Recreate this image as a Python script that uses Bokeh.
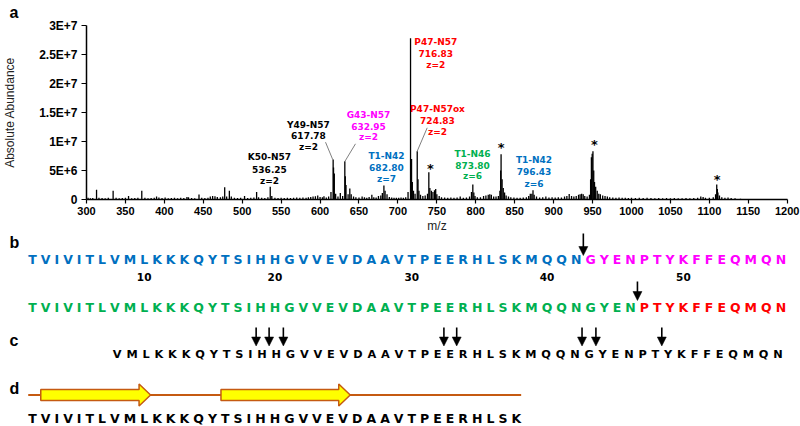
import numpy as np
from bokeh.plotting import figure
from bokeh.models import Range1d, FixedTicker, LinearAxis
from bokeh.core.properties import value
from bokeh.embed import file_html
from bokeh.resources import INLINE

# ---------------- panel a: spectrum data ----------------
peak_mz = [
    302, 305, 308, 312.9, 316, 320, 324, 328, 334.2, 338,
    342, 346, 350, 354, 358, 362, 366, 371, 375, 379,
    383, 387, 390, 393, 397, 401, 405, 409, 413, 417,
    421, 425, 429, 431, 435, 439, 444.5, 448, 452, 456,
    459, 462, 465, 468, 472, 475, 477.5, 480, 483.5, 486,
    490, 494, 498, 503, 507, 511, 515, 518.5, 521, 525,
    529, 533, 536, 538, 542, 546, 550, 554, 558, 562,
    566, 570, 574, 578, 582, 585, 588, 591, 594, 597,
    600, 603, 605, 608, 611, 614, 616.8, 618.3, 620, 623,
    626, 629, 631.8, 633.3, 636, 638.2, 640, 643, 646, 650,
    654, 657, 660, 663, 666.5, 669, 672, 675, 678, 680,
    682, 683.5, 686, 689, 692, 695, 698, 701, 704, 707,
    710, 713, 716.2, 717.5, 718.5, 720, 722, 724.8, 725.8, 727,
    729, 732, 735, 738, 739.7, 741, 743, 745, 747, 748.5,
    750, 753, 756, 760, 764, 768, 772, 776, 780, 784,
    788, 792, 794.5, 796.2, 797.5, 799, 802, 806, 810, 813,
    816, 818, 820, 823, 826, 829, 831, 832.5, 833.8, 835.3,
    837, 839, 842, 845, 849, 853, 857, 861, 865, 868,
    870, 872, 873.5, 875, 878, 882, 886, 890, 894, 898,
    902, 906, 910, 914, 917, 920, 923, 926, 929, 932,
    934, 936, 938, 940, 943, 946, 948.5, 950.5, 951.5, 952.5,
    954, 956, 958, 960, 963, 966, 969, 972, 976, 980,
    984, 988, 992, 996, 1000, 1005, 1010, 1015, 1020, 1025,
    1030, 1035, 1040, 1045, 1050, 1055, 1060, 1065, 1070, 1075,
    1080, 1085, 1089, 1092, 1095, 1100, 1105, 1108, 1109.5, 1111,
    1113, 1116, 1120, 1124, 1128, 1133, 1140, 1150, 1160, 1170,
    947.5, 949.5, 832.0, 617.3, 632.4, 1110.3,
]
peak_abund_e6 = [
    0.3, 0.2, 0.25, 1.7, 0.3, 0.25, 0.2, 0.3, 1.5, 0.3,
    0.2, 0.25, 0.3, 0.6, 0.2, 0.25, 0.3, 1.5, 0.3, 0.2,
    0.25, 0.3, 0.5, 0.35, 0.25, 0.35, 0.2, 0.25, 0.3, 0.2,
    0.3, 0.25, 0.45, 0.4, 0.25, 0.2, 0.85, 0.3, 0.25, 0.3,
    0.5, 0.6, 0.55, 0.45, 0.4, 0.5, 2.1, 0.5, 1.5, 0.5,
    0.3, 0.25, 0.3, 0.6, 0.25, 0.3, 0.35, 1.3, 0.4, 0.3,
    0.25, 0.4, 2.2, 0.6, 0.3, 0.25, 0.3, 0.25, 0.3, 0.25,
    0.3, 0.35, 0.3, 0.35, 0.3, 0.4, 0.45, 0.5, 0.55, 0.7,
    0.45, 0.4, 0.55, 0.35, 0.5, 1.3, 6.9, 4.5, 1.0, 0.5,
    1.1, 0.6, 6.6, 2.5, 0.9, 1.9, 0.9, 0.5, 0.4, 0.35,
    0.5, 0.4, 0.3, 0.45, 0.8, 0.4, 0.35, 0.6, 0.7, 1.1,
    2.4, 1.5, 0.9, 0.45, 0.35, 0.3, 0.3, 0.3, 0.35, 0.3,
    0.4, 1.3, 27.8, 7.0, 3.0, 1.5, 1.0, 8.3, 3.5, 1.5,
    0.8, 0.6, 0.7, 1.0, 4.7, 2.0, 1.5, 1.3, 1.6, 1.8,
    0.9, 0.6, 0.4, 0.35, 0.3, 0.35, 0.3, 0.35, 0.5, 0.3,
    0.35, 0.5, 1.3, 2.6, 1.2, 0.6, 0.4, 0.4, 0.6, 0.7,
    0.8, 0.9, 0.8, 0.5, 0.5, 0.6, 1.5, 7.8, 3.5, 2.0,
    1.2, 0.7, 0.5, 0.4, 0.35, 0.3, 0.3, 0.35, 0.4, 0.6,
    1.0, 1.0, 1.6, 0.8, 0.5, 0.35, 0.4, 0.5, 0.35, 0.4,
    0.35, 0.4, 0.35, 0.5, 0.6, 0.95, 0.6, 0.5, 0.6, 0.8,
    0.9, 1.0, 0.9, 0.6, 0.5, 0.8, 7.3, 8.3, 5.0, 3.0,
    2.2, 1.5, 1.0, 0.9, 0.7, 0.6, 0.5, 0.4, 0.35, 0.3,
    0.35, 0.3, 0.3, 0.25, 0.3, 0.25, 0.3, 0.25, 0.3, 0.25,
    0.2, 0.25, 0.2, 0.25, 0.2, 0.25, 0.2, 0.2, 0.25, 0.2,
    0.25, 0.3, 0.5, 0.45, 0.3, 0.3, 0.4, 0.9, 2.6, 1.2,
    0.7, 0.4, 0.3, 0.35, 0.25, 0.2, 0.15, 0.1, 0.1, 0.1,
    3.5, 7.9, 5.0, 5.5, 4.0, 1.8,
]

x_ticks = list(range(300, 1201, 50))
y_ticks = [0, 5000000, 10000000, 15000000, 20000000, 25000000, 30000000]
y_tick_labels = ["0", "5E+6", "1E+7", "1.5E+7", "2E+7", "2.5E+7", "3E+7"]

# peak annotations (three lines each)
ann_text = ["K50-N57", "536.25", "z=2",
            "Y49-N57", "617.78", "z=2",
            "G43-N57", "632.95", "z=2",
            "T1-N42", "682.80", "z=7",
            "P47-N57", "716.83", "z=2",
            "P47-N57ox", "724.83", "z=2",
            "T1-N46", "873.80", "z=6",
            "T1-N42", "796.43", "z=6"]
ann_color = (["#000000"] * 6 + ["#FF00FF"] * 3 + ["#0070C0"] * 3 +
             ["#FF0000"] * 6 + ["#00B050"] * 3 + ["#0070C0"] * 3)
ann_mz = [535.0] * 3 + [585.1] * 3 + [662.2] * 3 + [685.3] * 3 + \
         [748.6] * 3 + [750.8] * 3 + [795.8] * 3 + [874.8] * 3
ann_ab = [7.41e6, 5.21e6, 3.19e6,
          12.93e6, 10.95e6, 9.05e6,
          14.53e6, 12.67e6, 10.69e6,
          7.50e6, 5.55e6, 3.62e6,
          27.12e6, 25.17e6, 23.24e6,
          15.60e6, 13.62e6, 11.64e6,
          7.88e6, 5.86e6, 4.00e6,
          6.81e6, 4.86e6, 2.64e6]
leader_mz0 = [607.0, 645.5, 737.6]
leader_ab0 = [9.88e6, 9.60e6, 12.36e6]
leader_mz1 = [616.4, 631.8, 724.8]
leader_ab1 = [6.84e6, 6.55e6, 8.33e6]
star_mz = [741.8, 832.6, 952.5, 1110.1]
star_ab = [5.3e6, 8.9e6, 9.4e6, 3.45e6]

# ---------------- panels b-d: sequence data ----------------
seq = "TVIVITLVMLKKKQYTSIHHGVVEVDAAVTPEERHLSKMQQNGYENPTYKFFEQMQN"
row1_split = 42          # T1-N42 | G43-N57
row2_split = 46          # T1-N46 | P47-N57
res_numbers = [10, 20, 30, 40, 50]
c_start = 8              # panel c starts at V8
c_cuts = [18, 19, 20, 32, 33, 42, 43, 48]
d_end = 38               # panel d: T1-K38
d_strands = [(2, 10), (16, 25)]

BLUE, MAGENTA, GREEN, RED = "#0070C0", "#FF00FF", "#00B050", "#FF0000"
ORANGE = "#C55A11"

# DejaVu Sans Bold advance widths (per 1000 em), used to space the residues
W = {'A': 774, 'D': 830, 'E': 683, 'F': 683, 'G': 821, 'H': 837, 'I': 372,
     'K': 775, 'L': 637, 'M': 995, 'N': 837, 'P': 733, 'Q': 850, 'R': 770,
     'S': 720, 'T': 682, 'V': 774, 'Y': 724}


def centers(residues, fs, x_first, x_last):
    w = [W[c] * fs / 1000.0 for c in residues]
    n = len(w)
    gap = (x_last - x_first - (sum(w) - w[0] / 2 - w[-1] / 2)) / (n - 1)
    xs = [x_first]
    for i in range(1, n):
        xs.append(xs[-1] + w[i - 1] / 2 + gap + w[i] / 2)
    return xs, w


FONT = value("DejaVu Sans")
LAB = value("Liberation Sans")

# ---------------- single canvas ----------------
WIDTH, HEIGHT = 800, 426
AX_L, AX_R, AX_T, AX_B = 86.0, 786.7, 25.0, 199.0     # pixel box of the spectrum axes
MZ0, MZ1, AB0, AB1 = 300.0, 1200.0, 0.0, 3e7
kx = (AX_R - AX_L) / (MZ1 - MZ0)
ky = (AX_B - AX_T) / (AB1 - AB0)
x_rng = Range1d(MZ0 - AX_L / kx, MZ0 + (WIDTH - AX_L) / kx)
y_rng = Range1d(AB0 - (HEIGHT - AX_B) / ky, AB0 + AX_B / ky)

p = figure(width=WIDTH, height=HEIGHT, x_range=x_rng, y_range=y_rng,
           x_axis_type=None, y_axis_type=None, min_border=0,
           output_backend="svg", toolbar_location=None)
p.extra_x_ranges = {"px": Range1d(0, WIDTH)}
p.extra_y_ranges = {"px": Range1d(HEIGHT, 0)}
p.outline_line_color = None
p.background_fill_color = "white"
p.border_fill_color = "white"

# spectrum stems
mz = np.array(peak_mz)
ab = np.array(peak_abund_e6) * 1e6
p.segment(x0=mz, y0=np.zeros_like(mz), x1=mz, y1=ab, line_color="black", line_width=1.3)

# axes inside the canvas
xaxis = LinearAxis(fixed_location=0, bounds=(MZ0, MZ1), ticker=FixedTicker(ticks=x_ticks))
yaxis = LinearAxis(fixed_location=MZ0, bounds=(AB0, AB1), ticker=FixedTicker(ticks=y_ticks))
yaxis.major_label_overrides = {t: l for t, l in zip(y_ticks, y_tick_labels)}
for ax in (xaxis, yaxis):
    ax.axis_line_color = "black"
    ax.axis_line_width = 1.5
    ax.major_tick_line_color = "black"
    ax.major_tick_line_width = 1.2
    ax.major_tick_in = 0
    ax.minor_tick_line_color = None
    ax.major_label_text_font = "Liberation Sans"
    ax.major_label_text_font_style = "bold"
    ax.major_label_text_color = "black"
    ax.axis_label_text_font = "Liberation Sans"
    ax.axis_label_text_font_style = "normal"
    ax.axis_label_text_font_size = "12px"
    ax.axis_label_text_color = "#222222"
xaxis.major_tick_out = 4
xaxis.major_label_standoff = 3
xaxis.major_label_text_font_size = "11px"
xaxis.axis_label = "m/z"
xaxis.axis_label_standoff = 1
yaxis.major_tick_out = 5
yaxis.major_label_standoff = 4
yaxis.major_label_text_font_size = "12px"
yaxis.axis_label = "Absolute Abundance"
yaxis.axis_label_standoff = 19
p.add_layout(xaxis, "below")
p.add_layout(yaxis, "left")

# peak annotations
p.segment(x0=leader_mz0, y0=leader_ab0, x1=leader_mz1, y1=leader_ab1,
          line_color="#808080", line_width=1)
p.text(x=ann_mz, y=ann_ab, text=ann_text, text_color=ann_color, text_font=FONT,
       text_font_style="bold", text_font_size="9px", text_align="center", text_baseline="middle")
p.text(x=star_mz, y=star_ab, text=["*"] * len(star_mz), text_color="black", text_font=FONT,
       text_font_style="bold", text_font_size="13px", text_align="center", text_baseline="middle")

# ---------------- panels b-d (pixel ranges) ----------------
PX = dict(x_range_name="px", y_range_name="px")
xb, wb = centers(seq, 12.5, 32.0, 780.4)
c_res = seq[c_start - 1:]
xc, wc = centers(c_res, 11.3, 116.7, 777.5)

row1_col = [BLUE if i < row1_split else MAGENTA for i in range(len(seq))]
row2_col = [GREEN if i < row2_split else RED for i in range(len(seq))]

seq_kw = dict(text_font=FONT, text_font_style="bold", text_align="center", text_baseline="middle", **PX)
p.text(x=xb, y=[259] * len(seq), text=list(seq), text_color=row1_col, text_font_size="12.5px", **seq_kw)
p.text(x=xb, y=[307] * len(seq), text=list(seq), text_color=row2_col, text_font_size="12.5px", **seq_kw)
p.text(x=[xb[n - 1] for n in res_numbers], y=[276] * len(res_numbers),
       text=[str(n) for n in res_numbers], text_color="black", text_font_size="10.5px", **seq_kw)
p.text(x=xc, y=[353.5] * len(c_res), text=list(c_res), text_color="black",
       text_font_size="11.3px", **seq_kw)
p.text(x=xb[:d_end], y=[418] * d_end, text=list(seq[:d_end]), text_color="black",
       text_font_size="12.5px", **seq_kw)

p.text(x=[9], y=[12], text=["a"], text_color="black", text_font=LAB, text_font_style="bold",
       text_font_size="16px", text_align="left", text_baseline="alphabetic", **PX)
p.text(x=[9, 9, 9], y=[242, 340, 388], text=["b", "c", "d"], text_color="black",
       text_font=LAB, text_font_style="bold", text_font_size="16px",
       text_align="left", text_baseline="middle", **PX)

# cleavage arrows
arr_x, arr_top, arr_tip = [], [], []
arr_x.append((xb[row1_split - 1] + xb[row1_split]) / 2); arr_top.append(233); arr_tip.append(255)
arr_x.append((xb[row2_split - 1] + xb[row2_split]) / 2); arr_top.append(281); arr_tip.append(300)
for s in c_cuts:
    k = s - c_start
    arr_x.append((xc[k] + xc[k + 1]) / 2); arr_top.append(327); arr_tip.append(345.5)
hl, hw = 9.0, 4.5
p.segment(x0=arr_x, y0=arr_top, x1=arr_x, y1=[t - hl + 1 for t in arr_tip],
          line_color="black", line_width=1.6, **PX)
p.patches(xs=[[x - hw, x + hw, x] for x in arr_x],
          ys=[[t - hl, t - hl, t] for t in arr_tip],
          fill_color="black", line_color="black", line_width=0.5, **PX)

# secondary structure (panel d)
yc = 394.5
p.segment(x0=[xb[0] - wb[0] / 2], y0=[yc], x1=[xb[d_end - 1] + wb[d_end - 1] / 2], y1=[yc],
          line_color=ORANGE, line_width=2, **PX)
sx, sy = [], []
for a, b in d_strands:
    x0 = xb[a - 1] - wb[a - 1] / 2
    x1 = (xb[b - 1] + xb[b]) / 2
    hs = x1 - 11.5
    sx.append([x0, hs, hs, x1, hs, hs, x0])
    sy.append([yc - 5.5, yc - 5.5, yc - 11, yc, yc + 11, yc + 5.5, yc + 5.5])
p.patches(xs=sx, ys=sy, fill_color="#FFFF00", line_color=ORANGE, line_width=1.5, **PX)

open("out.html", "w").write(file_html(p, INLINE))
